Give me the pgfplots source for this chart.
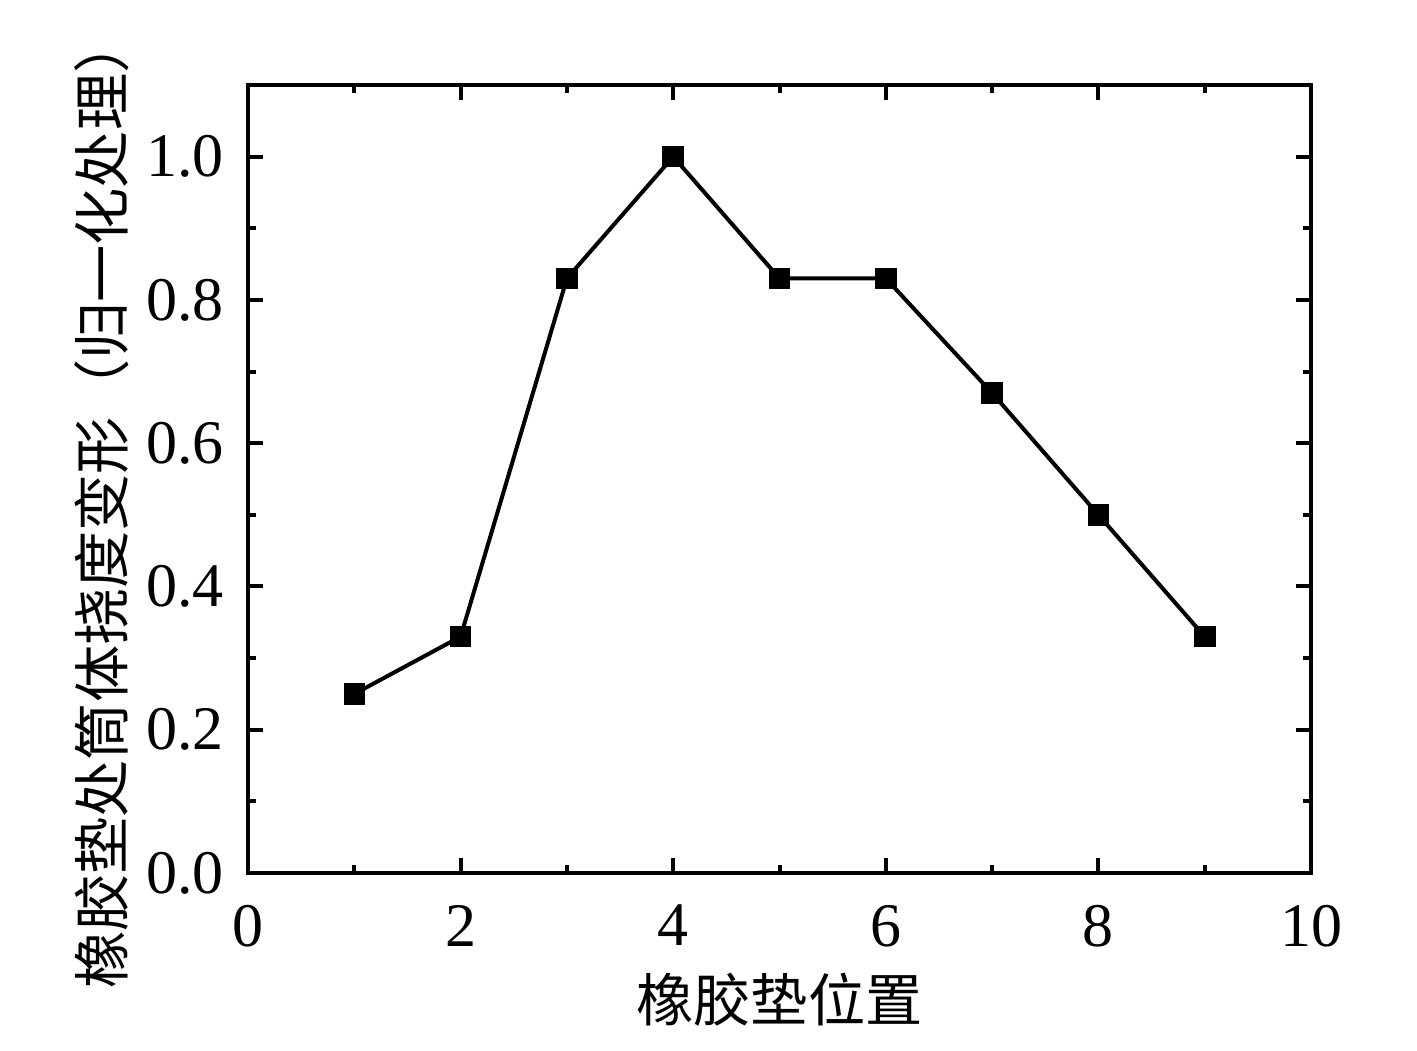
\documentclass[border=0pt]{standalone}
\usepackage{fontspec}
\setmainfont{Liberation Serif}
\newfontfamily\cjk{Noto Sans CJK SC}
\usepackage{pgfplots}
\pgfplotsset{compat=1.18}

\begin{document}
\begin{tikzpicture}
\begin{axis}[
  scale only axis,
  width=265.75pt, height=197pt,
  xmin=0, xmax=10, ymin=0, ymax=1.1,
  xtick={0,2,...,10}, ytick={0,0.2,...,1.0},
  minor xtick={1,3,...,9}, minor ytick={0.1,0.3,...,0.9},
  yticklabel style={/pgf/number format/fixed, /pgf/number format/fixed zerofill, /pgf/number format/precision=1},
  /pgf/number format/assume math mode=true,
  tick label style={font=\fontsize{15.5}{17}\selectfont},
  tick align=inside,
  major tick length=3.8pt, minor tick length=2pt,
  every tick/.style={line width=1pt, black},
  axis line style={line width=1.15pt},
  xticklabel style={yshift=-4.5pt},
  yticklabel style={xshift=-2.5pt},
  xlabel={\cjk\fontsize{14.3}{16}\selectfont 橡胶垫位置},
  ylabel={\cjk\fontsize{14.3}{16}\selectfont 橡胶垫处筒体挠度变形（归一化处理）},
  xlabel style={at={(rel axis cs:0.5,-0.161)}, anchor=center},
  ylabel style={at={(rel axis cs:-0.138,0.47)}, anchor=center},
  clip=false,
]
\addplot[black, line width=1pt, mark=square*, mark size=2.2pt, mark options={solid}]
  coordinates {
  (1,0.25) (2,0.33) (3,0.83) (4,1.0) (5,0.83) (6,0.83) (7,0.67) (8,0.5) (9,0.33)
};
\path (rel axis cs:-0.2333,-0.2246) rectangle (rel axis cs:1.0997,1.1079);
\end{axis}
\end{tikzpicture}
\end{document}
